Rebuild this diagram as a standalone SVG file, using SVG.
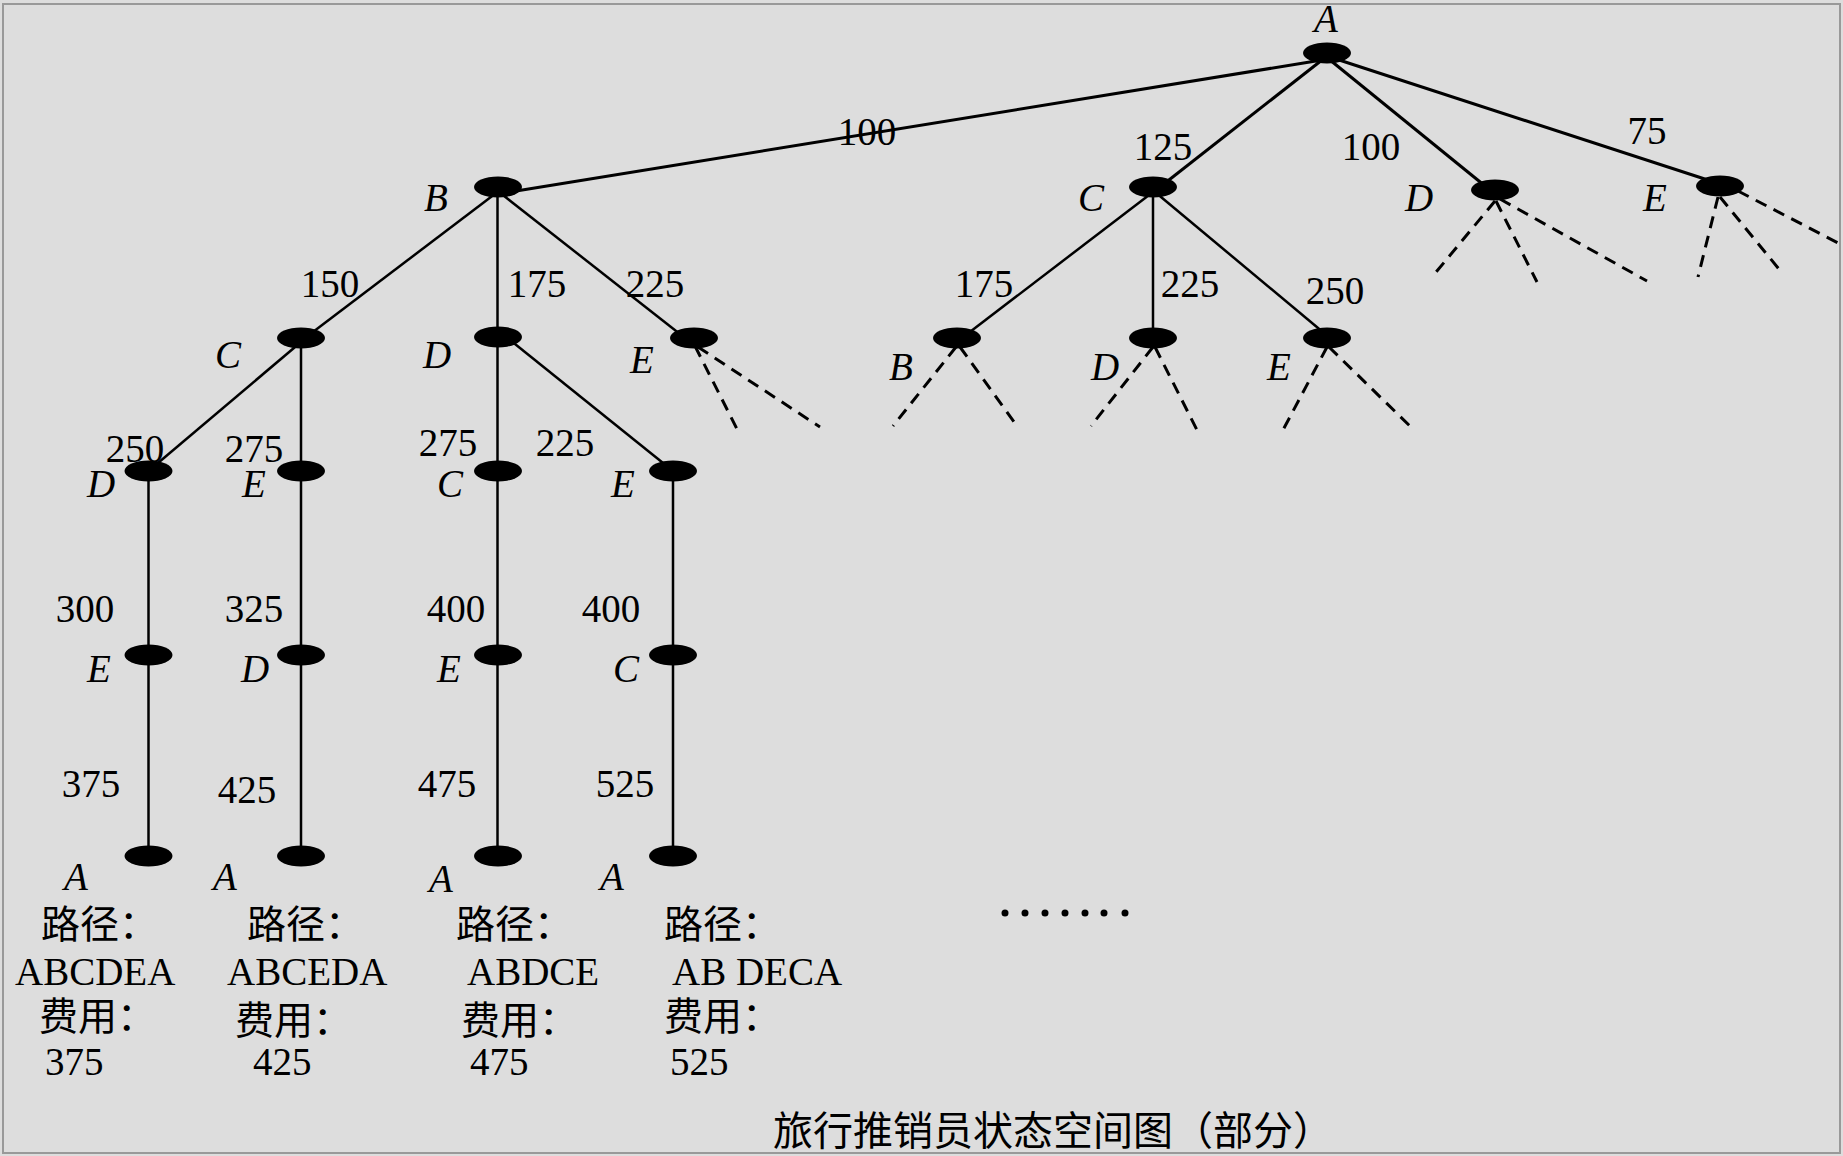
<svg xmlns="http://www.w3.org/2000/svg" width="1843" height="1156" viewBox="0 0 1843 1156">
<style>
.n{fill:#000}
.e{stroke:#000;stroke-width:2.5;fill:none}
.e1{stroke:#000;stroke-width:3;fill:none}
.d{stroke:#000;stroke-width:3;fill:none;stroke-dasharray:12 8}
.lt{font-family:"Liberation Serif","Times New Roman",serif;font-style:italic;font-size:39px;fill:#000;text-anchor:middle}
.num{font-family:"Liberation Serif","Times New Roman",serif;font-size:39px;fill:#000;text-anchor:middle}
.t{font-family:"Liberation Serif","Noto Sans CJK SC",serif;font-size:39px;fill:#000}
</style>
<rect x="0" y="0" width="1843" height="1156" fill="#dddddd"/>
<rect x="3" y="4" width="1837" height="1149" fill="none" stroke="#999" stroke-width="2"/>

<g id="connectors">
  <line class="e1" x1="1322" y1="60" x2="510" y2="192"/>
  <line class="e1" x1="1322" y1="60" x2="1160" y2="187"/>
  <line class="e1" x1="1330" y1="60" x2="1490" y2="190"/>
  <line class="e1" x1="1333" y1="58" x2="1714" y2="182"/>
  <line class="e" x1="497.5" y1="192" x2="305" y2="338"/>
  <line class="e" x1="497.5" y1="187" x2="497.5" y2="337"/>
  <line class="e" x1="499" y1="192" x2="685" y2="338"/>
  <line class="e" x1="1153" y1="192" x2="962" y2="338"/>
  <line class="e" x1="1153" y1="187" x2="1153" y2="337"/>
  <line class="e" x1="1155" y1="192" x2="1330" y2="338"/>
  <line class="e" x1="301" y1="342" x2="148.5" y2="471"/>
  <line class="e" x1="301" y1="338" x2="301" y2="856"/>
  <line class="e" x1="148.5" y1="471" x2="148.5" y2="856"/>
  <line class="e" x1="497.5" y1="337" x2="497.5" y2="856"/>
  <line class="e" x1="510" y1="340" x2="673" y2="471"/>
  <line class="e" x1="673" y1="471" x2="673" y2="856"/>
  <line class="d" x1="695" y1="346" x2="738" y2="431"/>
  <line class="d" x1="698" y1="347" x2="820" y2="427"/>
  <line class="d" x1="956" y1="347" x2="893" y2="426"/>
  <line class="d" x1="960" y1="347" x2="1017" y2="426"/>
  <line class="d" x1="1153" y1="347" x2="1091" y2="426"/>
  <line class="d" x1="1155" y1="347" x2="1197" y2="430"/>
  <line class="d" x1="1327" y1="347" x2="1283" y2="430"/>
  <line class="d" x1="1329" y1="347" x2="1414" y2="430"/>
  <line class="d" x1="1495" y1="201" x2="1432" y2="277"/>
  <line class="d" x1="1496" y1="201" x2="1537" y2="282"/>
  <line class="d" x1="1500" y1="199" x2="1647" y2="281"/>
  <line class="d" x1="1718" y1="197" x2="1698" y2="277"/>
  <line class="d" x1="1720" y1="197" x2="1783" y2="274"/>
  <line class="d" x1="1738" y1="191" x2="1840" y2="244"/>
</g>

<g id="edge-labels">
  <text class="num" x="867" y="145">100</text>
  <text class="num" x="1163" y="160">125</text>
  <text class="num" x="1371" y="160">100</text>
  <text class="num" x="1647" y="144">75</text>
  <text class="num" x="330" y="297">150</text>
  <text class="num" x="537" y="297">175</text>
  <text class="num" x="655" y="297">225</text>
  <text class="num" x="984" y="297">175</text>
  <text class="num" x="1190" y="297">225</text>
  <text class="num" x="1335" y="304">250</text>
  <text class="num" x="135" y="462">250</text>
  <text class="num" x="254" y="462">275</text>
  <text class="num" x="448" y="456">275</text>
  <text class="num" x="565" y="456">225</text>
  <text class="num" x="85" y="622">300</text>
  <text class="num" x="254" y="622">325</text>
  <text class="num" x="456" y="622">400</text>
  <text class="num" x="611" y="622">400</text>
  <text class="num" x="91" y="797">375</text>
  <text class="num" x="247" y="803">425</text>
  <text class="num" x="447" y="797">475</text>
  <text class="num" x="625" y="797">525</text>
</g>

<g id="n-A"><ellipse class="n" cx="1327" cy="53" rx="24" ry="10.5"/><text class="lt" x="1326" y="32">A</text></g>
<g id="n-AB"><ellipse class="n" cx="498" cy="187" rx="24" ry="10.5"/><text class="lt" x="436" y="211">B</text></g>
<g id="n-AC"><ellipse class="n" cx="1153" cy="187" rx="24" ry="10.5"/><text class="lt" x="1091" y="211">C</text></g>
<g id="n-AD"><ellipse class="n" cx="1495" cy="190" rx="24" ry="10.5"/><text class="lt" x="1419" y="211">D</text></g>
<g id="n-AE"><ellipse class="n" cx="1720" cy="186" rx="24" ry="10.5"/><text class="lt" x="1655" y="211">E</text></g>

<g id="n-ABC"><ellipse class="n" cx="301" cy="338" rx="24" ry="10.5"/><text class="lt" x="228" y="368">C</text></g>
<g id="n-ABD"><ellipse class="n" cx="498" cy="337" rx="24" ry="10.5"/><text class="lt" x="437" y="368">D</text></g>
<g id="n-ABE"><ellipse class="n" cx="694" cy="338" rx="24" ry="10.5"/><text class="lt" x="642" y="373">E</text></g>
<g id="n-ACB"><ellipse class="n" cx="957" cy="338" rx="24" ry="10.5"/><text class="lt" x="901" y="380">B</text></g>
<g id="n-ACD"><ellipse class="n" cx="1153" cy="338" rx="24" ry="10.5"/><text class="lt" x="1105" y="380">D</text></g>
<g id="n-ACE"><ellipse class="n" cx="1327" cy="338" rx="24" ry="10.5"/><text class="lt" x="1279" y="380">E</text></g>

<g id="n-ABCD"><ellipse class="n" cx="148.5" cy="471" rx="24" ry="10.5"/><text class="lt" x="101" y="497">D</text></g>
<g id="n-ABCE"><ellipse class="n" cx="301" cy="471" rx="24" ry="10.5"/><text class="lt" x="254" y="497">E</text></g>
<g id="n-ABDC"><ellipse class="n" cx="498" cy="471" rx="24" ry="10.5"/><text class="lt" x="450" y="497">C</text></g>
<g id="n-ABDE"><ellipse class="n" cx="673" cy="471" rx="24" ry="10.5"/><text class="lt" x="623" y="497">E</text></g>

<g id="n-ABCDE"><ellipse class="n" cx="148.5" cy="655" rx="24" ry="10.5"/><text class="lt" x="99" y="682">E</text></g>
<g id="n-ABCED"><ellipse class="n" cx="301" cy="655" rx="24" ry="10.5"/><text class="lt" x="255" y="682">D</text></g>
<g id="n-ABDCE"><ellipse class="n" cx="498" cy="655" rx="24" ry="10.5"/><text class="lt" x="449" y="682">E</text></g>
<g id="n-ABDEC"><ellipse class="n" cx="673" cy="655" rx="24" ry="10.5"/><text class="lt" x="626" y="682">C</text></g>

<g id="n-ABCDEA"><ellipse class="n" cx="148.5" cy="856" rx="24" ry="10.5"/><text class="lt" x="76" y="890">A</text></g>
<g id="n-ABCEDA"><ellipse class="n" cx="301" cy="856" rx="24" ry="10.5"/><text class="lt" x="225" y="890">A</text></g>
<g id="n-ABDCEA"><ellipse class="n" cx="498" cy="856" rx="24" ry="10.5"/><text class="lt" x="441" y="892">A</text></g>
<g id="n-ABDECA"><ellipse class="n" cx="673" cy="856" rx="24" ry="10.5"/><text class="lt" x="612" y="890">A</text></g>

<g id="summaries">
  <text class="t" x="41" y="938">路径：</text>
  <text class="t" x="247" y="938">路径：</text>
  <text class="t" x="456" y="938">路径：</text>
  <text class="t" x="664" y="938">路径：</text>
  <text class="t" x="15" y="985">ABCDEA</text>
  <text class="t" x="227" y="985">ABCEDA</text>
  <text class="t" x="467" y="985">ABDCE</text>
  <text class="t" x="672" y="985">AB DECA</text>
  <text class="t" x="39" y="1030">费用：</text>
  <text class="t" x="235" y="1034">费用：</text>
  <text class="t" x="461" y="1034">费用：</text>
  <text class="t" x="664" y="1030">费用：</text>
  <text class="t" x="45" y="1075">375</text>
  <text class="t" x="253" y="1075">425</text>
  <text class="t" x="470" y="1075">475</text>
  <text class="t" x="670" y="1075">525</text>
</g>

<g id="ellipsis">
  <circle cx="1005" cy="913" r="3.5"/><circle cx="1025" cy="913" r="3.5"/><circle cx="1045" cy="913" r="3.5"/><circle cx="1065" cy="913" r="3.5"/><circle cx="1085" cy="913" r="3.5"/><circle cx="1104" cy="913" r="3.5"/><circle cx="1125" cy="913" r="3.5"/>
</g>

<text id="caption" class="t" x="773" y="1145" style="font-size:40px">旅行推销员状态空间图（部分）</text>
</svg>
